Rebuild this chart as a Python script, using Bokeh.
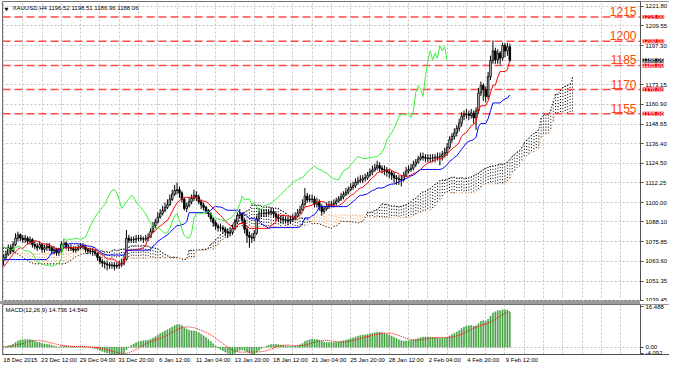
import numpy as np
import pandas as pd
from bokeh.plotting import figure
from bokeh.layouts import column
from bokeh.models import Range1d, FixedTicker, Label, Spacer, NumeralTickFormatter
from bokeh.embed import file_html
from bokeh.resources import INLINE

symbol_title = "XAUUSD,H4  1196.52 1198.51 1186.96 1188.06"
macd_title = "MACD(12,26,9) 14.736 14.540"

first_open = 1064.0
close = [
    1066, 1068, 1072, 1070, 1074, 1078, 1080, 1078, 1077, 1078,
    1076, 1077, 1074, 1073, 1072, 1074, 1071, 1072, 1073, 1072,
    1070, 1071, 1069, 1070, 1074, 1075, 1072.5, 1072, 1071.5, 1070.5,
    1071, 1072, 1073, 1072.5, 1071, 1070, 1070, 1069.5, 1068.5, 1066,
    1063.5, 1062.5, 1062, 1061.5, 1061, 1061.3, 1060.5, 1061, 1061.8, 1062.5,
    1064.8, 1077.9, 1076.7, 1077, 1077.3, 1077.5, 1077.9, 1077.5, 1077.3, 1077.8,
    1078.5, 1082, 1085.6, 1088, 1091, 1093.3, 1095, 1097, 1098.7, 1102,
    1105.2, 1107.5, 1108, 1106, 1102, 1096.3, 1098, 1100.5, 1102.5, 1104.5,
    1103.5, 1100.5, 1098.5, 1097, 1095, 1093, 1090, 1087.5, 1085.5, 1084.4,
    1084.4, 1083.5, 1082, 1081, 1081.5, 1084, 1088, 1092, 1093, 1089,
    1083.5, 1079.7, 1078.5, 1078, 1081, 1090, 1093.3, 1093.3, 1093.3, 1093.5,
    1094, 1094.5, 1093, 1091, 1090, 1089.8, 1089.5, 1089, 1088.6, 1089.5,
    1090.3, 1091.5, 1093.5, 1095.5, 1099, 1104, 1101.6, 1102, 1102.2, 1099,
    1100, 1097.5, 1094.5, 1096, 1097.5, 1098.5, 1099, 1099.5, 1101, 1102.2,
    1103.5, 1105, 1106.4, 1108, 1109.5, 1110.5, 1112.5, 1113.5, 1114, 1115,
    1115.3, 1117, 1119, 1120.1, 1121.5, 1123, 1121.3, 1120.5, 1120.1, 1119,
    1118.3, 1117, 1115.3, 1114.8, 1114.3, 1114.1, 1117, 1119.5, 1120.5, 1121.3,
    1123.5, 1125, 1127, 1128.4, 1128, 1127.5, 1127.2, 1127.5, 1127.8, 1128,
    1128.4, 1128.4, 1130, 1131, 1134, 1139, 1141, 1143.2, 1146, 1149.2,
    1153.5, 1154.5, 1155, 1154, 1155.5, 1152.5, 1156.9, 1168, 1172.5, 1170,
    1165.8, 1178, 1188, 1194, 1188.5, 1192.5, 1189.5, 1197.3, 1194, 1196.52, 1188.06,
]
high = [
    1068, 1070, 1074, 1074, 1076, 1081, 1082, 1081, 1080, 1080,
    1079, 1079, 1078, 1076, 1075, 1076, 1075, 1074, 1075, 1075,
    1073, 1073, 1072, 1072, 1076, 1077, 1076, 1074, 1074, 1073,
    1073, 1074, 1075, 1075, 1074, 1072, 1072, 1072, 1071, 1069,
    1067, 1065, 1064, 1064, 1063, 1063, 1063, 1063, 1064, 1065,
    1067, 1083, 1080, 1079, 1079, 1080, 1080, 1080, 1079, 1080,
    1081, 1084, 1088, 1090, 1094, 1096, 1098, 1100, 1102, 1105,
    1108, 1111, 1112.5, 1110, 1107, 1103, 1100, 1103, 1105, 1108,
    1107, 1105, 1102, 1100, 1098, 1096, 1094, 1091, 1089, 1087,
    1087, 1086, 1085, 1084, 1084, 1086, 1090, 1094, 1096, 1094,
    1090, 1085, 1082, 1081, 1083, 1092, 1096, 1096, 1096, 1096,
    1096, 1097, 1096, 1094, 1093, 1092, 1092, 1091, 1091, 1092,
    1093, 1094, 1096, 1098, 1102, 1109, 1106, 1105, 1105, 1104,
    1103, 1102, 1099, 1098, 1100, 1101, 1101, 1102, 1103, 1104,
    1106, 1107, 1109, 1110, 1112, 1113, 1115, 1116, 1117, 1117,
    1118, 1119, 1121, 1123, 1124, 1126, 1125, 1123, 1123, 1122,
    1121, 1120, 1119, 1117, 1117, 1117, 1119, 1122, 1123, 1124,
    1126, 1127, 1129, 1131, 1131, 1130, 1130, 1130, 1130, 1130,
    1131, 1131, 1132, 1134, 1137, 1141, 1143, 1146, 1148, 1152,
    1156, 1157, 1158, 1157, 1158, 1157, 1159, 1171, 1175, 1174,
    1172, 1181, 1191, 1200.5, 1196, 1195, 1194, 1199, 1199, 1199, 1198.51,
]
low = [
    1061, 1064, 1067, 1068, 1069, 1073, 1076, 1076, 1075, 1075,
    1074, 1074, 1072, 1071, 1070, 1071, 1069, 1069, 1070, 1070,
    1068, 1068, 1067, 1067, 1069, 1072, 1071, 1070, 1070, 1069,
    1069, 1070, 1071, 1071, 1069, 1068, 1068, 1067, 1067, 1064,
    1062, 1060, 1059, 1058, 1059, 1059, 1058, 1059, 1059, 1060,
    1061, 1064, 1075, 1075, 1075, 1075, 1076, 1076, 1075, 1076,
    1076, 1078, 1081, 1084, 1087, 1090, 1092, 1094, 1096, 1098,
    1101, 1104, 1105, 1103, 1100, 1095, 1094, 1097, 1099, 1101,
    1101, 1099, 1096, 1095, 1093, 1091, 1088, 1085, 1083, 1082,
    1082, 1081, 1079, 1078, 1079, 1080, 1083, 1087, 1090, 1087,
    1081, 1075, 1072, 1075, 1076, 1080, 1089, 1091, 1091, 1091,
    1092, 1092, 1091, 1089, 1088, 1087, 1087, 1087, 1086, 1087,
    1088, 1089, 1091, 1093, 1095, 1098, 1100, 1100, 1100, 1097,
    1097, 1095, 1092, 1093, 1095, 1096, 1097, 1097, 1098, 1100,
    1101, 1102, 1104, 1105, 1107, 1108, 1109, 1111, 1112, 1112,
    1113, 1114, 1116, 1117, 1119, 1120, 1119, 1118, 1117, 1116,
    1115, 1114, 1112, 1111, 1111, 1110, 1113, 1116, 1118, 1119,
    1120, 1122, 1124, 1126, 1126, 1125, 1125, 1125, 1125, 1125,
    1126, 1123, 1126, 1128, 1129, 1133, 1137, 1139, 1141, 1144,
    1147, 1151, 1152, 1151, 1152, 1149, 1145, 1155, 1166, 1163,
    1162, 1164, 1176, 1186, 1186, 1186, 1185.5, 1188, 1190, 1191, 1186.96,
]

tenkan_head = [1060, 1062, 1064, 1066, 1068, 1069.5, 1071, 1072]
kijun_head = [1064.7, 1064.7, 1064.7, 1064.7, 1064.7, 1064.7, 1064.7, 1064.7, 1064.7, 1064.7,
              1064.7, 1064.7, 1064.7, 1064.7, 1064.7, 1064.7, 1064.7, 1064.7, 1064.7, 1066.5,
              1068.8, 1068.8, 1070, 1071, 1071]
span_a_head = [1072, 1072, 1071.5, 1071, 1070, 1069, 1068, 1067, 1066, 1065,
               1064, 1063, 1062.5, 1062, 1062, 1062, 1062, 1062, 1062, 1062,
               1062, 1062, 1062, 1062, 1062, 1062]
span_b_head = [1068.5, 1068.5, 1068.5, 1068.5, 1068.5, 1068.5, 1068.5, 1068.5, 1068.5, 1068.5,
               1068.5, 1068.5, 1068.5, 1068.5, 1068.5, 1068.5, 1068.5, 1068.5, 1068.5, 1068.5,
               1068.5, 1068.5, 1068.5, 1068.5, 1068.5, 1068.5, 1070.5, 1070.5, 1070.5, 1070.5,
               1070.5, 1070.5, 1070.5, 1070.5, 1070.5, 1070.5, 1070.5, 1070.5, 1070.5, 1070.5,
               1070.5, 1065.5, 1065.5, 1065.5, 1065.5, 1065.5, 1065.5, 1065.5, 1065.5, 1065.5,
               1065.5, 1065.5, 1065.5, 1065.5, 1065.5, 1065.5, 1065.5, 1065.5, 1065.5, 1065.5,
               1065.5, 1065.5, 1065.5, 1065.5, 1065.5, 1065.5, 1065.5, 1065.5, 1065.5, 1065.5,
               1065.5, 1065.5, 1065.5, 1065.5, 1065.5, 1065.5, 1065.5, 1065.5, 1065.5, 1065.5]

levels = [1215, 1200, 1185, 1170, 1155]
level_texts = ["1215", "1200", "1185", "1170", "1155"]
level_tags = ["1215.00", "1200.00", "1185.00", "1170.00", "1155.00"]
last_price = 1188.06
last_tag = "1188.06"

price_grid = [1221.80, 1209.55, 1197.30, 1185.05, 1173.15, 1160.90, 1148.65, 1136.40,
              1124.50, 1112.25, 1100.00, 1088.10, 1075.85, 1063.60, 1051.35, 1039.45]
price_ticks = [1221.80, 1209.55, 1197.30, 1173.15, 1160.90, 1148.65, 1136.40,
               1124.50, 1112.25, 1100.00, 1088.10, 1075.85, 1063.60, 1051.35, 1039.45]
macd_ticks = [16.488, 0.0, -2.45]
macd_tick_labels = ["16.488", "0.00", "-4.092"]
time_ticks = [0, 16, 32, 48, 64, 80, 96, 112, 128, 144, 160, 176, 192, 208]
time_labels = ["18 Dec 2015", "23 Dec 12:00", "29 Dec 04:00", "31 Dec 20:00", "6 Jan 12:00",
               "11 Jan 04:00", "13 Jan 20:00", "18 Jan 12:00", "21 Jan 04:00", "25 Jan 20:00",
               "28 Jan 12:00", "2 Feb 04:00", "4 Feb 20:00", "9 Feb 12:00"]

# ---------------- derived series ----------------
c = np.array(close, dtype=float)
h = np.array(high, dtype=float)
l = np.array(low, dtype=float)
o = np.concatenate([[first_open], c[:-1]])
n = len(c)
idx = np.arange(n)
hs, ls = pd.Series(h), pd.Series(l)


def midline(period):
    return ((hs.rolling(period).max() + ls.rolling(period).min()) / 2).to_numpy()


tenkan = midline(9)
tenkan[:len(tenkan_head)] = tenkan_head
kijun = midline(26)
kijun[:len(kijun_head)] = kijun_head
m = n + 26
span_a = np.full(m, np.nan)
span_a[26:] = (tenkan + kijun) / 2
span_a[:26] = span_a_head
span_b = np.full(m, np.nan)
span_b[26:] = midline(52)
span_b[:len(span_b_head)] = span_b_head
cidx = np.arange(m)

cs = pd.Series(c)
macd = (cs.ewm(span=12, adjust=False).mean() - cs.ewm(span=26, adjust=False).mean()).to_numpy()
signal = pd.Series(macd).rolling(9, min_periods=1).mean().to_numpy()

# ---------------- layout constants ----------------
FONT = "Liberation Sans"
GRID = "#c4c4c4"
AXIS = "#505050"
X0 = -0.4          # left edge of the frame (bars)
AX = 264.2         # price axis position (bars)
PX_PER_BAR = 638 / (AX - X0)
FRAME_W = 667
X1 = X0 + FRAME_W / PX_PER_BAR
Y0, Y1 = 1038.7, 1224.6
M0, M1 = -3.0, 17.4

xr = Range1d(X0, X1)

p = figure(frame_width=FRAME_W, frame_height=300, x_range=xr, y_range=Range1d(Y0, Y1),
           y_axis_location="right", x_axis_location=None,
           output_backend="svg", toolbar_location=None,
           min_border_left=2, min_border_top=1, min_border_bottom=0, min_border_right=0)
p.background_fill_color = "white"
p.outline_line_color = "#707070"
p.yaxis.fixed_location = AX
p.yaxis.ticker = FixedTicker(ticks=price_ticks)
p.yaxis.formatter = NumeralTickFormatter(format="0.00")
p.yaxis.major_label_text_font = FONT
p.yaxis.major_label_text_font_size = "6px"
p.yaxis.major_label_text_color = "black"
p.yaxis.major_tick_out = 3
p.yaxis.major_tick_in = 0
p.yaxis.minor_tick_out = 0
p.yaxis.minor_tick_in = 0
p.yaxis.major_label_standoff = 2
p.yaxis.axis_line_color = AXIS
p.yaxis.major_tick_line_color = AXIS
p.ygrid.ticker = FixedTicker(ticks=price_grid)
p.xgrid.ticker = FixedTicker(ticks=list(range(0, 272, 8)))
for g in (p.xgrid, p.ygrid):
    g.grid_line_color = GRID
    g.grid_line_dash = "2 2"
    g.grid_line_width = 1

# blank strip behind the price scale
p.quad(left=[AX], right=[X1], bottom=[Y0], top=[Y1], fill_color="white", line_color=None)

# cloud hatching (dotted verticals per bar)
up = span_a >= span_b
p.segment(x0=cidx[up], y0=span_a[up], x1=cidx[up], y1=span_b[up],
          line_color="black", line_dash="1 2", line_width=1)
p.segment(x0=cidx[~up], y0=span_a[~up], x1=cidx[~up], y1=span_b[~up],
          line_color="#F4A460", line_dash="1 2", line_width=1)
p.line(cidx, span_a, line_color="black", line_dash="1 2", line_width=1)
p.line(cidx, span_b, line_color="#F4A460", line_dash="1 2", line_width=1)

# horizontal level lines and last-price line, ending at the price scale
nl = len(levels)
p.segment(x0=[X0] * nl, x1=[AX] * nl, y0=levels, y1=levels, line_color="#FF4A4A",
          line_dash="8 4", line_width=1.5)
p.segment(x0=[X0], x1=[AX], y0=[last_price], y1=[last_price], line_color="#c8c8c8",
          line_width=1)

# candles
p.segment(x0=idx, y0=h, x1=idx, y1=l, line_color="black", line_width=1)
inc = c >= o
p.vbar(x=idx[inc], width=0.65, top=c[inc], bottom=o[inc], fill_color="white",
       line_color="black", line_width=0.9)
p.vbar(x=idx[~inc], width=0.65, top=o[~inc], bottom=c[~inc], fill_color="black",
       line_color="black", line_width=0.9)

# ichimoku lines
p.line(idx, tenkan, line_color="#FF0000", line_width=1)
p.line(idx, kijun, line_color="#0000FF", line_width=1)
p.line(idx[:n - 26], c[26:], line_color="#3AF03A", line_width=1)

for lv, t in zip(levels, level_texts):
    p.add_layout(Label(x=AX, y=lv, x_offset=-4, y_offset=1, text=t,
                       text_align="right", text_baseline="bottom",
                       text_font=FONT, text_font_size="12px", text_color="#FF4500"))
for lv, t in zip(levels, level_tags):
    p.add_layout(Label(x=AX, y=lv, x_offset=2, text=t,
                       text_align="left", text_baseline="middle",
                       text_font=FONT, text_font_size="6px", text_color="white",
                       background_fill_color="#FF0000"))
p.add_layout(Label(x=AX, y=last_price, x_offset=2, text=last_tag,
                   text_align="left", text_baseline="middle",
                   text_font=FONT, text_font_size="6px", text_color="white",
                   background_fill_color="black"))

p.add_layout(Label(x=2, y=296, x_units="screen", y_units="screen", text="\u25bc",
                   text_baseline="top", text_font="DejaVu Sans", text_font_size="5px",
                   text_color="black"))
p.add_layout(Label(x=10, y=297, x_units="screen", y_units="screen", text=symbol_title,
                   text_baseline="top", text_font=FONT, text_font_size="6px",
                   text_color="black"))

sep = Spacer(width=2 + 638, height=3, styles={"background-color": "#9a9a9a"})

q = figure(frame_width=FRAME_W, frame_height=50, x_range=xr, y_range=Range1d(M0, M1),
           y_axis_location="right", output_backend="svg", toolbar_location=None,
           min_border_left=2, min_border_top=0, min_border_bottom=14, min_border_right=0)
q.outline_line_color = "#707070"
q.yaxis.fixed_location = AX
q.yaxis.ticker = FixedTicker(ticks=macd_ticks)
q.yaxis.major_label_overrides = dict(zip(macd_ticks, macd_tick_labels))
label_pos = [t + 7 for t in time_ticks]
q.xaxis.ticker = FixedTicker(ticks=label_pos)
q.xaxis.major_label_overrides = dict(zip(label_pos, time_labels))
for ax in (q.xaxis, q.yaxis):
    ax.major_label_text_font = FONT
    ax.major_label_text_font_size = "6px"
    ax.major_label_text_color = "black"
    ax.minor_tick_out = 0
    ax.minor_tick_in = 0
    ax.major_tick_in = 0
    ax.axis_line_color = AXIS
    ax.major_tick_line_color = AXIS
    ax.major_label_standoff = 2
q.yaxis.major_tick_out = 3
q.xaxis.major_tick_out = 0
q.xgrid.ticker = FixedTicker(ticks=list(range(0, 272, 8)))
q.ygrid.ticker = FixedTicker(ticks=[0])
for g in (q.xgrid, q.ygrid):
    g.grid_line_color = GRID
    g.grid_line_dash = "2 2"

q.quad(left=[AX], right=[X1], bottom=[M0], top=[M1], fill_color="white", line_color=None)
q.vbar(x=idx, top=macd, bottom=0, width=0.45, fill_color="#3f9f3f", line_color="#3f9f3f",
       line_width=0.5)
q.line(idx, signal, line_color="#FF0000", line_dash="1 1", line_width=1)
q.add_layout(Label(x=3, y=48, x_units="screen", y_units="screen", text=macd_title,
                   text_baseline="top", text_font=FONT, text_font_size="6px",
                   text_color="black"))

layout = column(p, sep, q, spacing=0)
open("out.html", "w").write(file_html(layout, INLINE))
